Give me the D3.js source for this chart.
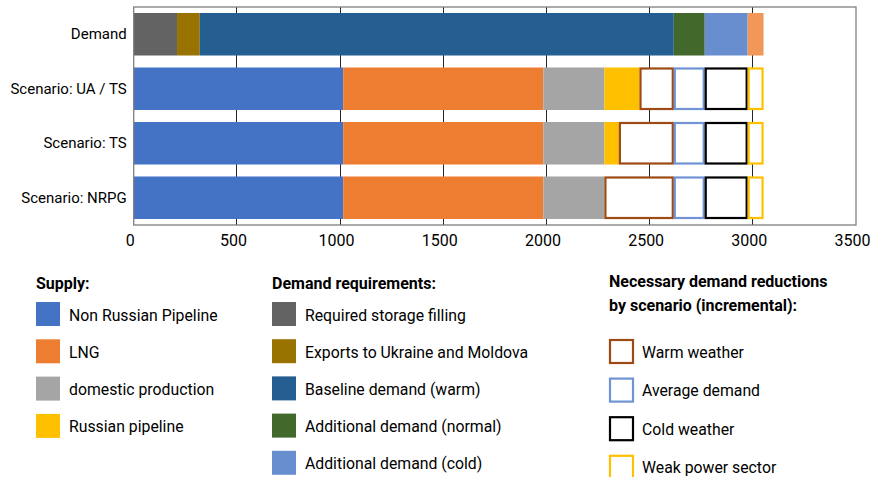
<!DOCTYPE html>
<html><head><meta charset="utf-8">
<script src="https://cdn.jsdelivr.net/npm/d3@7"></script>
<style>
body{margin:0;background:#fff;}
svg{display:block;font-family:Roboto, "Noto Sans", sans-serif;}
</style></head>
<body><svg id="c" width="877" height="477"></svg>
<script>
// ---- data ----
const categories = ["Demand", "Scenario: UA / TS", "Scenario: TS", "Scenario: NRPG"];
const xTicks = [0, 500, 1000, 1500, 2000, 2500, 3000, 3500];

// demand requirements (Demand row only)
const storageFilling   = [210, 0, 0, 0];
const exportsUAMD      = [110, 0, 0, 0];
const baselineWarm     = [2297, 0, 0, 0];
const addNormal        = [150, 0, 0, 0];
const addCold          = [208, 0, 0, 0];
const addPower         = [77, 0, 0, 0];
// supply (scenario rows)
const nonRussianPipe   = [0, 1015, 1015, 1015];
const lng              = [0, 970, 970, 970];
const domesticProd     = [0, 296, 296, 296];
const russianPipe      = [0, 170, 70, 0];
// necessary demand reductions (incremental)
const redWarm          = [0, 166, 266, 336];
const redAverage       = [0, 150, 150, 150];
const redCold          = [0, 208, 208, 208];
const redWeakPower     = [0, 77, 77, 77];

const seriesNames = ["Required storage filling","Exports to Ukraine and Moldova","Baseline demand (warm)",
  "Additional demand (normal)","Additional demand (cold)","Additional demand (power)",
  "Non Russian Pipeline","LNG","domestic production","Russian pipeline",
  "Warm weather","Average demand","Cold weather","Weak power sector"];
const seriesValues = [storageFilling, exportsUAMD, baselineWarm, addNormal, addCold, addPower,
  nonRussianPipe, lng, domesticProd, russianPipe, redWarm, redAverage, redCold, redWeakPower];
const seriesColors = ["#636363","#997300","#255E91","#43682B","#698ED0","#F1975A",
  "#4472C4","#ED7D31","#A5A5A5","#FFC000",
  "#9E4A14","#6F93D4","#000000","#FFC000"];
const seriesOutline = [false,false,false,false,false,false,false,false,false,false,true,true,true,true];

const legendGroups = [
  {title:["Supply:"], items:[6,7,8,9]},
  {title:["Demand requirements:"], items:[0,1,2,3,4]},
  {title:["Necessary demand reductions","by scenario (incremental):"], items:[10,11,12,13]}
];

// ---- chart ----
const svg = d3.select("#c");
const L = 133.7, R = 856, T = 7, B = 225;
const x = d3.scaleLinear().domain([0, 3500]).range([L, R]);
const y = d3.scaleBand().domain(categories).range([T, B]).paddingInner(0.22).paddingOuter(0.11);

const table = categories.map((c, i) => {
  const o = {cat: c};
  seriesNames.forEach((n, k) => o[n] = seriesValues[k][i]);
  return o;
});
const stacked = d3.stack().keys(seriesNames)(table);

// grid
svg.append("g").selectAll("line").data(xTicks.slice(1, -1)).join("line")
  .attr("x1", d => x(d)).attr("x2", d => x(d)).attr("y1", T).attr("y2", B)
  .attr("stroke", "#262626").attr("stroke-width", 1).attr("shape-rendering","crispEdges");

// bars
stacked.forEach((s, k) => {
  const g = svg.append("g");
  const data = s.filter(d => d[1] - d[0] > 0);
  if (!seriesOutline[k]) {
    g.selectAll("rect").data(data).join("rect")
      .attr("x", d => x(d[0])).attr("width", d => x(d[1]) - x(d[0]))
      .attr("y", d => y(d.data.cat)).attr("height", y.bandwidth())
      .attr("fill", seriesColors[k]);
  } else {
    g.selectAll("rect").data(data).join("rect")
      .attr("x", d => x(d[0]) + 1).attr("width", d => x(d[1]) - x(d[0]) - 2)
      .attr("y", d => y(d.data.cat) + 1).attr("height", y.bandwidth() - 2)
      .attr("fill", "#fff").attr("stroke", seriesColors[k]).attr("stroke-width", 2.2);
  }
});

// frame
svg.append("rect").attr("x", L).attr("y", T).attr("width", R - L).attr("height", B - T)
  .attr("fill", "none").attr("stroke", "#7f7f7f").attr("stroke-width", 1.3);

// x axis
const xAxis = svg.append("g").attr("transform", `translate(0,${B})`)
  .call(d3.axisBottom(x).tickValues(xTicks).tickSize(0).tickPadding(10).tickFormat(d3.format("d")));
xAxis.select(".domain").remove();
xAxis.selectAll("text").attr("font-size", 16).attr("fill", "#000").attr("font-family","Roboto")
  .attr("dx", -4);

// y axis
const yAxis = svg.append("g").attr("transform", `translate(${L},0)`)
  .call(d3.axisLeft(y).tickSize(0).tickPadding(7));
yAxis.select(".domain").remove();
yAxis.selectAll("text").attr("font-size", 15).attr("fill", "#000").attr("font-family","Roboto");

// legend
const legX = [36, 272, 609];
const legTitleY = [283, 283, 281];
const legStartY = [302, 302, 339];
const legStep = [37.3, 37.2, 38.6];
legendGroups.forEach((grp, gi) => {
  const g = svg.append("g");
  grp.title.forEach((t, li) => {
    g.append("text").attr("x", legX[gi]).attr("y", legTitleY[gi] + li * 24).attr("dy", "0.35em")
      .attr("font-size", 16).attr("font-weight", "bold").text(t);
  });
  grp.items.forEach((k, ii) => {
    const yy = legStartY[gi] + ii * legStep[gi];
    if (seriesOutline[k]) {
      g.append("rect").attr("x", legX[gi] + 1).attr("y", yy + 1).attr("width", 23).attr("height", 23)
        .attr("fill", "#fff").attr("stroke", seriesColors[k]).attr("stroke-width", 2.2);
    } else {
      g.append("rect").attr("x", legX[gi]).attr("y", yy).attr("width", 24).attr("height", 24)
        .attr("fill", seriesColors[k]);
    }
    g.append("text").attr("x", legX[gi] + 33).attr("y", yy + 13).attr("dy", "0.35em")
      .attr("font-size", 15.8).text(seriesNames[k]);
  });
});
</script></body></html>
